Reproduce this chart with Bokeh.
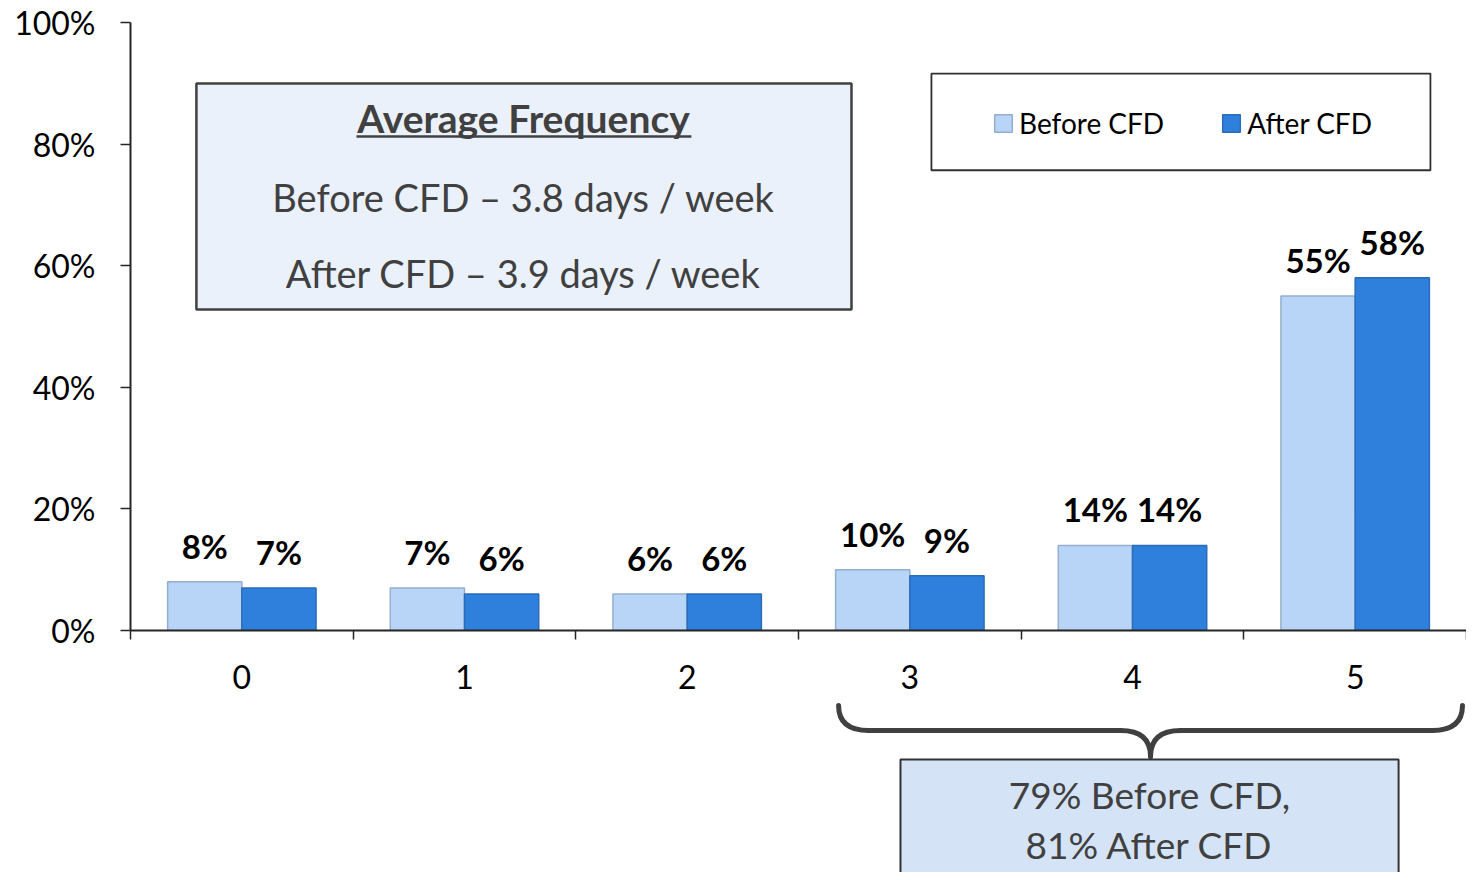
from bokeh.plotting import figure
from bokeh.models import Range1d, FixedTicker, NumeralTickFormatter, Legend, LegendItem, ColumnDataSource
from bokeh.layouts import column
from bokeh.embed import file_html
from bokeh.resources import INLINE
from bokeh.core.properties import value

# ---------------- data ----------------
categories = ["0", "1", "2", "3", "4", "5"]
before_cfd = [0.08, 0.07, 0.06, 0.10, 0.14, 0.55]
after_cfd = [0.07, 0.06, 0.06, 0.09, 0.14, 0.58]
y_ticks = [0.0, 0.2, 0.4, 0.6, 0.8, 1.0]
series_names = ["Before CFD", "After CFD"]
avg_title = "Average Frequency"
avg_lines = ["Before CFD \u2013 3.8 days / week", "After CFD \u2013 3.9 days / week"]
summary_lines = ["79% Before CFD,", "81% After CFD"]

# ---------------- styles ----------------
FONT = "Lato"
C_BEFORE = "#B8D5F8"
C_AFTER = "#2F80DC"
C_BEFORE_LINE = "#95AECB"
C_AFTER_LINE = "#2A6CB8"
DARK = "#404040"
AXIS = "#262626"

W, H_TOP, H_BOT = 1466, 700, 172
LEFT = 130

n = len(categories)
centers = [i + 0.5 for i in range(n)]
bar_w = 1.0 / 3.0
src = ColumnDataSource(dict(
    xb=[c - bar_w / 2 for c in centers],
    xa=[c + bar_w / 2 for c in centers],
    before=before_cfd,
    after=after_cfd,
    lb=[f"{round(v * 100)}%" for v in before_cfd],
    la=[f"{round(v * 100)}%" for v in after_cfd],
))

xr = Range1d(0, n)
p = figure(width=W, height=H_TOP, x_range=xr, y_range=Range1d(0, 1),
           output_backend="svg", toolbar_location=None,
           min_border_left=LEFT, min_border_right=0, min_border_top=22, min_border_bottom=70)
p.outline_line_color = None
p.grid.visible = False

# y axis
ya = p.yaxis[0]
ya.ticker = FixedTicker(ticks=y_ticks)
ya.formatter = NumeralTickFormatter(format="0%")
ya.major_tick_out = 10
ya.major_tick_in = 0
ya.minor_tick_out = 0
ya.minor_tick_in = 0
ya.major_label_standoff = 25
ya.axis_line_width = 2
ya.axis_line_color = AXIS
ya.major_tick_line_color = AXIS
ya.major_tick_line_width = 1.5
ya.major_label_text_font = FONT
ya.major_label_text_font_size = "32px"
ya.major_label_text_color = "black"

# x axis
xa = p.xaxis[0]
xa.ticker = FixedTicker(ticks=centers, minor_ticks=list(range(n + 1)))
xa.major_label_overrides = {c: cat for c, cat in zip(centers, categories)}
xa.major_tick_out = 0
xa.major_tick_in = 0
xa.minor_tick_out = 9
xa.minor_tick_in = 0
xa.minor_tick_line_color = AXIS
xa.minor_tick_line_width = 1.5
xa.axis_line_width = 2
xa.axis_line_color = AXIS
xa.major_label_standoff = 25
xa.major_label_text_font = FONT
xa.major_label_text_font_size = "32px"
xa.major_label_text_color = "black"

# average frequency box (layout positions in frame data units)
p.quad(left=0.296, right=3.238, top=0.8997, bottom=0.528,
       fill_color="#EAF1FB", line_color=DARK, line_width=2.5)
p.text(x=[1.765], y=[0.8437], text=[avg_title], text_font=value(FONT), text_font_style="bold",
       text_font_size="39px", text_color=DARK, text_align="center", text_baseline="middle")
p.segment(x0=[1.015], y0=[0.8125], x1=[2.519], y1=[0.8125], line_color=DARK, line_width=2.5)
p.text(x=[1.765, 1.765], y=[0.7138, 0.5888], text=avg_lines, text_font=value(FONT),
       text_font_size="38px", text_color=DARK, text_align="center", text_baseline="middle")

# legend box
p.quad(left=3.597, right=5.838, top=0.916, bottom=0.757,
       fill_color="white", line_color="#303030", line_width=1.8)

# bars
rb = p.vbar(x="xb", top="before", width=bar_w, source=src,
            fill_color=C_BEFORE, line_color=C_BEFORE_LINE, line_width=1.5)
ra = p.vbar(x="xa", top="after", width=bar_w, source=src,
            fill_color=C_AFTER, line_color=C_AFTER_LINE, line_width=1.5)

# data labels
for xcol, ycol, lcol in (("xb", "before", "lb"), ("xa", "after", "la")):
    p.text(x=xcol, y=ycol, text=lcol, source=src, y_offset=-36,
           text_font=value(FONT), text_font_style="bold", text_font_size="33px",
           text_color="black", text_align="center", text_baseline="middle")

legend = Legend(items=[LegendItem(label=series_names[0], renderers=[rb]),
                       LegendItem(label=series_names[1], renderers=[ra])],
                orientation="horizontal", location=(862, 490),
                label_text_font=FONT, label_text_font_size="28px", label_text_color="black",
                glyph_width=22, glyph_height=22, label_standoff=5, spacing=56,
                padding=0, margin=0, border_line_color=None, background_fill_alpha=0)
p.add_layout(legend)

# ---------------- bottom panel: brace + summary box ----------------
q = figure(width=W, height=H_BOT, x_range=xr, y_range=Range1d(H_BOT, 0),
           output_backend="svg", toolbar_location=None, x_axis_type=None, y_axis_type=None,
           min_border_left=LEFT, min_border_right=0, min_border_top=0, min_border_bottom=0)
q.outline_line_color = None
q.grid.visible = False

bx0, bx1, bxm = 3.18, 5.982, 4.581
by_end, by_h, by_tip = 5, 30, 56
r = 0.135
q.quadratic(x0=[bx0, bxm - r, bxm, bx1 - r], y0=[by_end, by_h, by_tip, by_h],
            x1=[bx0 + r, bxm, bxm + r, bx1], y1=[by_h, by_tip, by_h, by_end],
            cx=[bx0, bxm, bxm, bx1], cy=[by_h, by_h, by_h, by_h],
            line_color=DARK, line_width=5, line_cap="round")
q.segment(x0=[bx0 + r, bxm + r], y0=[by_h, by_h], x1=[bxm - r, bx1 - r], y1=[by_h, by_h],
          line_color=DARK, line_width=5, line_cap="round")

q.quad(left=3.458, right=5.695, top=59, bottom=230, fill_color="#D5E3F6",
       line_color="#333333", line_width=2)
q.text(x=[4.576, 4.576], y=[94, 144], text=summary_lines, text_font=value(FONT),
       text_font_size="37px", text_color=DARK, text_align="center", text_baseline="middle")

layout = column(p, q, spacing=0)
open("out.html", "w").write(file_html(layout, INLINE))
